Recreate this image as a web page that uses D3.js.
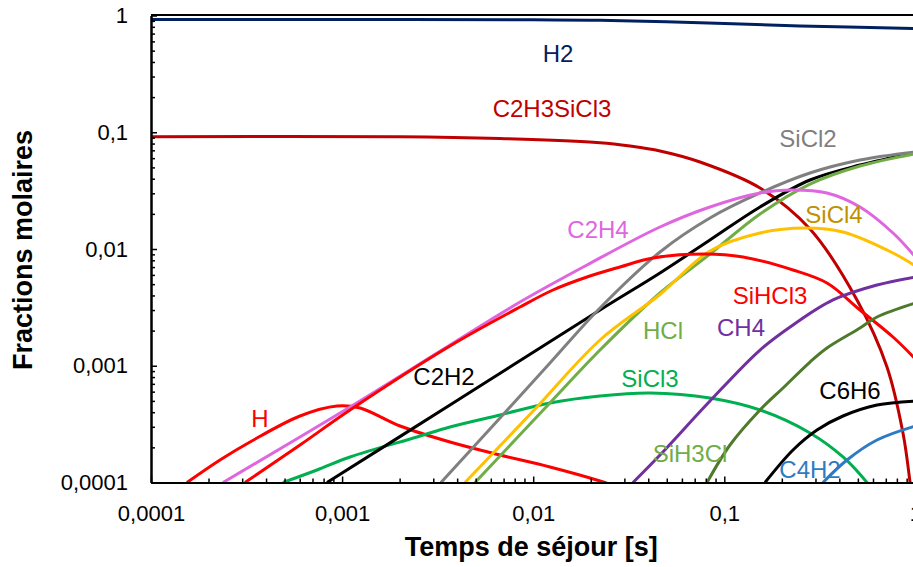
<!DOCTYPE html>
<html>
<head>
<meta charset="utf-8">
<script src="https://cdn.jsdelivr.net/npm/d3@7"></script>
<style>
  html, body { margin: 0; padding: 0; background: #fff; }
  svg { display: block; font-family: "Liberation Sans", Arial, sans-serif; }
</style>
</head>
<body>
<svg id="chart" width="913" height="567"></svg>
<script>
// ---------------- DATA ----------------
const tickValues = [0.0001, 0.001, 0.01, 0.1, 1];
const xTickLabels = ["0,0001", "0,001", "0,01", "0,1", "1"];
const yTickLabels = ["0,0001", "0,001", "0,01", "0,1", "1"];
const xTitle = "Temps de séjour [s]";
const yTitle = "Fractions molaires";

// each series: [time (s), mole fraction]
const H2 = [[0.0001,0.925],[0.001,0.924],[0.01,0.918],[0.0224,0.912],[0.0746,0.868],[0.249,0.813],[1,0.775]];
const C2H3SiCl3 = [[0.0001,0.0916],[0.00201,0.0916],[0.0067,0.0884],[0.02237,0.0814],[0.0321,0.0762],[0.04608,0.0691],[0.0746,0.0556],[0.1538,0.0333],[0.2808,0.01483],[0.4948,0.00366],[0.71,0.000976],[0.861,0.000265],[0.937,0.000101],[1,0.00004]];
const SiCl2 = [[0.003292,0.0001],[0.006703,0.0003568],[0.01224,0.001056],[0.02237,0.003124],[0.04608,0.009426],[0.08414,0.01842],[0.1538,0.03018],[0.2808,0.04477],[0.513,0.0578],[1,0.0678]];
const C2H2 = [[0.0008337,0.0001],[0.003669,0.000461],[0.02237,0.003003],[0.04608,0.00623],[0.08414,0.01194],[0.1538,0.0229],[0.2808,0.039],[0.513,0.0524],[1,0.0668]];
const HCl = [[0.004961,0.0001],[0.01195,0.000461],[0.02237,0.001364],[0.04608,0.004198],[0.08414,0.00906],[0.1538,0.01995],[0.2808,0.036],[0.513,0.0514],[1,0.0655]];
const SiCl4 = [[0.004396,0.0001],[0.01,0.0004097],[0.02237,0.001662],[0.04608,0.004076],[0.08414,0.00961],[0.1538,0.01371],[0.2644,0.01513],[0.418,0.01398],[0.7634,0.00924],[1,0.00715]];
const C2H4 = [[0.0002381,0.0001],[0.0011,0.0004432],[0.003669,0.001506],[0.008531,0.003516],[0.01912,0.007295],[0.04608,0.01543],[0.08414,0.0229],[0.1538,0.03018],[0.2207,0.032],[0.3446,0.03018],[0.513,0.0229],[0.7634,0.01371],[1,0.00854]];
const SiHCl3 = [[0.0003104,0.0001],[0.0006022,0.0002095],[0.0011,0.0004178],[0.003669,0.001476],[0.008531,0.003185],[0.01269,0.004455],[0.01912,0.005756],[0.02846,0.007014],[0.04236,0.008375],[0.07925,0.00906],[0.1253,0.00854],[0.2288,0.00661],[0.3446,0.005113],[0.513,0.003003],[0.7634,0.001763],[1,0.001142]];
const H = [[0.0001543,0.0001],[0.0002296,0.0001558],[0.0003296,0.0002223],[0.0006022,0.0003712],[0.0009404,0.000452],[0.001241,0.0004346],[0.00201,0.0003048],[0.003669,0.0002223],[0.006703,0.000172],[0.01224,0.0001358],[0.02237,0.000103],[0.0268,0.000093]];
const SiCl3 = [[0.0004906,0.0001],[0.0007389,0.0001279],[0.0011,0.0001654],[0.002465,0.0002453],[0.003669,0.0002987],[0.006703,0.0003786],[0.01224,0.0004797],[0.02237,0.0005507],[0.04085,0.0005842],[0.08414,0.0005295],[0.1538,0.0004178],[0.2808,0.0002655],[0.418,0.0001654],[0.558,0.0001],[0.6528,0.0000708]];
const CH4 = [[0.03328,0.0001],[0.04608,0.000172],[0.08414,0.000499],[0.1538,0.001364],[0.2288,0.002234],[0.3705,0.00366],[0.6295,0.004915],[1,0.005756]];
const SiH3Cl = [[0.08121,0.0001],[0.1071,0.0002095],[0.1538,0.0004178],[0.2029,0.000645],[0.2808,0.001076],[0.3446,0.001419],[0.513,0.002105],[0.6295,0.002616],[1,0.003447]];
const C6H6 = [[0.1633,0.0001],[0.2288,0.0001899],[0.3055,0.0002817],[0.418,0.0003712],[0.6295,0.000461],[1,0.0004989]];
const C4H2 = [[0.3284,0.0001],[0.4386,0.0001558],[0.6295,0.0002312],[1,0.0003047]];

const seriesNames  = ["H2","C2H3SiCl3","H","SiCl3","C2H2","SiCl2","HCl","SiCl4","C2H4","SiHCl3","CH4","SiH3Cl","C6H6","C4H2"];
const seriesData   = [H2, C2H3SiCl3, H, SiCl3, C2H2, SiCl2, HCl, SiCl4, C2H4, SiHCl3, CH4, SiH3Cl, C6H6, C4H2];
const seriesColors = ["#002060","#C00000","#FF0000","#00B050","#000000","#808080","#70AD47","#FFC000","#E066E0","#FF0000","#7030A0","#4F7A2C","#000000","#2E7BC4"];

// labels: text, colour, anchor (centre, baseline) in data space [time, fraction]
const labelTexts  = ["H2","C2H3SiCl3","SiCl2","C2H4","SiCl4","SiHCl3","HCl","CH4","SiCl3","SiH3Cl","C6H6","C4H2","C2H2","H"];
const labelColors = ["#002060","#C00000","#7F7F7F","#E066E0","#BF9000","#FF0000","#70AD47","#7030A0","#00B050","#70AD47","#000000","#2E7BC4","#000000","#FF0000"];
const labelPos    = [[0.01348,0.3997],[0.01254,0.1351],[0.2742,0.07475],[0.02184,0.01242],[0.375,0.0167],[0.1734,0.003379],[0.04777,0.001694],[0.1223,0.001798],[0.04085,0.0006541],[0.06614,0.0001499],[0.4548,0.0005191],[0.2808,0.0001093],[0.003414,0.000684],[0.0003719,0.0002987]];

// ---------------- CHART ----------------
const svg = d3.select("#chart");
const plot = { left: 151, right: 915.4, top: 15.5, bottom: 482.5 };

const x = d3.scaleLog().domain([0.0001, 1]).range([plot.left, plot.right]);
const y = d3.scaleLog().domain([0.0001, 1]).range([plot.bottom, plot.top]);

svg.append("defs").append("clipPath").attr("id", "clip")
  .append("rect")
  .attr("x", plot.left).attr("y", plot.top)
  .attr("width", plot.right - plot.left).attr("height", plot.bottom - plot.top);

// minor tick values
const minor = [];
for (let e = -4; e < 0; e++) for (let k = 2; k <= 9; k++) minor.push(k * Math.pow(10, e));

// series
const line = d3.line().x(d => x(d[0])).y(d => y(d[1])).curve(d3.curveCatmullRom.alpha(0.5));
const gLines = svg.append("g").attr("clip-path", "url(#clip)");
seriesData.forEach((data, i) => {
  gLines.append("path")
    .datum(data)
    .attr("fill", "none")
    .attr("stroke", seriesColors[i])
    .attr("stroke-width", 3)
    .attr("d", line);
});

// frame lines (top and right)
svg.append("line")
  .attr("x1", plot.left).attr("x2", plot.right)
  .attr("y1", plot.top - 0.5).attr("y2", plot.top - 0.5)
  .attr("stroke", "#000").attr("stroke-width", 2);
svg.append("line")
  .attr("x1", plot.right).attr("x2", plot.right)
  .attr("y1", plot.top).attr("y2", plot.bottom)
  .attr("stroke", "#000").attr("stroke-width", 2);

// axes
const fmtX = d => xTickLabels[tickValues.indexOf(d)];
const fmtY = d => yTickLabels[tickValues.indexOf(d)];

const xAxis = svg.append("g").attr("transform", `translate(0,${plot.bottom})`)
  .call(d3.axisBottom(x).tickValues(tickValues).tickFormat(fmtX).tickSizeInner(-6).tickSizeOuter(0));
const xMinor = svg.append("g").attr("transform", `translate(0,${plot.bottom})`)
  .call(d3.axisBottom(x).tickValues(minor).tickFormat("").tickSizeInner(-4).tickSizeOuter(0));
const yAxis = svg.append("g").attr("transform", `translate(${plot.left},0)`)
  .call(d3.axisLeft(y).tickValues(tickValues).tickFormat(fmtY).tickSizeInner(-6).tickSizeOuter(0).tickPadding(23));
const yMinor = svg.append("g").attr("transform", `translate(${plot.left},0)`)
  .call(d3.axisLeft(y).tickValues(minor).tickFormat("").tickSizeInner(-4).tickSizeOuter(0));

[xAxis, xMinor, yAxis, yMinor].forEach(g => {
  g.select(".domain").attr("stroke", "#000").attr("stroke-width", 2);
  g.selectAll(".tick line").attr("stroke", "#000").attr("stroke-width", 1.5);
  g.selectAll("text").attr("fill", "#000")
    .style("font-family", '"Liberation Sans", Arial, sans-serif')
    .style("font-size", "22px");
});
xAxis.selectAll("text").attr("dy", "0.71em").attr("y", 23);

// axis titles
svg.append("text")
  .attr("x", (plot.left + plot.right) / 2 - 2).attr("y", 556)
  .attr("text-anchor", "middle")
  .style("font-size", "27px").style("font-weight", "bold")
  .text(xTitle);
svg.append("text")
  .attr("transform", "translate(32,250) rotate(-90)")
  .attr("text-anchor", "middle")
  .style("font-size", "27px").style("font-weight", "bold")
  .text(yTitle);

// series labels
labelTexts.forEach((t, i) => {
  svg.append("text")
    .attr("x", x(labelPos[i][0]))
    .attr("y", y(labelPos[i][1]))
    .attr("text-anchor", "middle")
    .attr("fill", labelColors[i])
    .style("font-size", "24px")
    .text(t);
});
</script>
</body>
</html>
